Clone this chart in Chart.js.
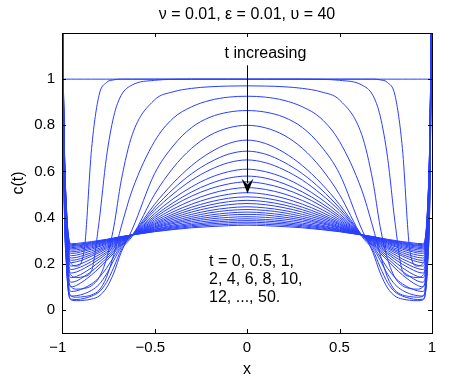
<!DOCTYPE html>
<html lang="en">
<head>
<meta charset="UTF-8">
<title>c(t) profiles</title>
<style>
    html, body { margin: 0; padding: 0; background: #fff; }
    #wrap { width: 476px; height: 382px; }
</style>
<script src="https://cdn.jsdelivr.net/npm/chart.js"></script>
</head>
<body>
<div id="wrap"><canvas id="chart" width="476" height="382"></canvas></div>
<script>
// x positions of the left half (profiles are symmetric about x = 0)
const xHalf = [-1, -0.99, -0.975, -0.95, -0.92, -0.88, -0.84, -0.8, -0.76, -0.72, -0.68, -0.62, -0.5, -0.4, -0.3, -0.2, -0.1, 0];

const times = ['0', '0.5', '1', '2', '4', '6', '8', '10', '12', '14', '16', '18', '20', '22',
               '24', '26', '28', '30', '32', '34', '36', '38', '40', '42', '44', '46', '48', '50'];

const c_t0  = [1, 1, 1, 1, 1, 1, 1, 1, 1, 1, 1, 1, 1, 1, 1, 1, 1, 1];
const c_t05 = [1.6, 0.74, 0.33, 0.2, 0.19, 0.26, 0.7, 0.93, 0.985, 0.997, 1, 1, 1, 1, 1, 1, 1, 1];
const c_t1  = [1.6, 0.69, 0.28, 0.15, 0.14, 0.145, 0.17, 0.38, 0.66, 0.84, 0.93, 0.975, 0.995, 0.999, 1, 1, 1, 1];
const c_t2  = [1.6, 0.64, 0.23, 0.1, 0.09, 0.093, 0.105, 0.14, 0.22, 0.36, 0.56, 0.76, 0.91, 0.945, 0.96, 0.967, 0.97, 0.971];
const c_t4  = [1.6, 0.6, 0.2, 0.06, 0.055, 0.058, 0.065, 0.085, 0.14, 0.24, 0.36, 0.52, 0.73, 0.83, 0.88, 0.908, 0.922, 0.926];
const c_t6  = [1.6, 0.58, 0.18, 0.043, 0.04, 0.042, 0.047, 0.06, 0.095, 0.16, 0.25, 0.35, 0.59, 0.71, 0.79, 0.835, 0.857, 0.864];
const c_t8  = [1.6, 0.58, 0.18, 0.047, 0.045, 0.05, 0.06, 0.078, 0.118, 0.185, 0.26, 0.32, 0.5, 0.615, 0.7, 0.757, 0.789, 0.8];
const c_t10 = [1.6, 0.61, 0.2, 0.06, 0.062, 0.07, 0.085, 0.11, 0.155, 0.215, 0.27, 0.325, 0.457, 0.549, 0.625, 0.682, 0.721, 0.736];
const c_t12 = [1.6, 0.63, 0.22, 0.08, 0.083, 0.095, 0.113, 0.14, 0.18, 0.23, 0.277, 0.325, 0.442, 0.523, 0.59, 0.64, 0.675, 0.688];
const c_t14 = [1.6, 0.65, 0.24, 0.1, 0.107, 0.127, 0.152, 0.181, 0.213, 0.246, 0.282, 0.325, 0.43, 0.502, 0.562, 0.607, 0.638, 0.65];
const c_t16 = [1.6, 0.67, 0.26, 0.12, 0.126, 0.145, 0.167, 0.194, 0.223, 0.253, 0.286, 0.325, 0.417, 0.481, 0.533, 0.573, 0.599, 0.61];
const c_t18 = [1.6, 0.69, 0.28, 0.14, 0.146, 0.162, 0.183, 0.207, 0.233, 0.26, 0.29, 0.325, 0.407, 0.464, 0.511, 0.547, 0.571, 0.58];
const c_t20 = [1.6, 0.71, 0.3, 0.16, 0.165, 0.18, 0.198, 0.219, 0.243, 0.267, 0.294, 0.325, 0.399, 0.451, 0.493, 0.525, 0.546, 0.555];
const c_t22 = [1.6, 0.72, 0.31, 0.175, 0.18, 0.193, 0.21, 0.229, 0.25, 0.273, 0.297, 0.325, 0.391, 0.437, 0.474, 0.503, 0.522, 0.53];
const c_t24 = [1.6, 0.74, 0.33, 0.19, 0.194, 0.206, 0.221, 0.239, 0.258, 0.278, 0.299, 0.325, 0.384, 0.425, 0.458, 0.484, 0.501, 0.508];
const c_t26 = [1.6, 0.75, 0.34, 0.205, 0.209, 0.219, 0.233, 0.248, 0.265, 0.283, 0.302, 0.325, 0.378, 0.415, 0.445, 0.468, 0.484, 0.49];
const c_t28 = [1.6, 0.76, 0.35, 0.215, 0.218, 0.228, 0.24, 0.255, 0.27, 0.287, 0.304, 0.325, 0.373, 0.407, 0.434, 0.455, 0.469, 0.475];
const c_t30 = [1.6, 0.77, 0.36, 0.225, 0.228, 0.237, 0.248, 0.261, 0.275, 0.29, 0.306, 0.325, 0.369, 0.399, 0.424, 0.443, 0.456, 0.461];
const c_t32 = [1.6, 0.78, 0.37, 0.235, 0.238, 0.246, 0.256, 0.267, 0.28, 0.294, 0.308, 0.325, 0.364, 0.392, 0.414, 0.431, 0.442, 0.447];
const c_t34 = [1.6, 0.79, 0.38, 0.245, 0.247, 0.255, 0.263, 0.274, 0.285, 0.297, 0.31, 0.325, 0.36, 0.385, 0.405, 0.421, 0.431, 0.435];
const c_t36 = [1.6, 0.8, 0.39, 0.252, 0.254, 0.261, 0.269, 0.278, 0.289, 0.299, 0.311, 0.325, 0.357, 0.379, 0.397, 0.411, 0.42, 0.424];
const c_t38 = [1.6, 0.8, 0.4, 0.259, 0.261, 0.267, 0.274, 0.283, 0.292, 0.302, 0.312, 0.325, 0.354, 0.374, 0.39, 0.402, 0.411, 0.414];
const c_t40 = [1.6, 0.81, 0.4, 0.265, 0.267, 0.272, 0.279, 0.287, 0.295, 0.304, 0.314, 0.325, 0.35, 0.368, 0.383, 0.394, 0.401, 0.404];
const c_t42 = [1.6, 0.82, 0.41, 0.27, 0.272, 0.277, 0.283, 0.29, 0.298, 0.306, 0.315, 0.325, 0.348, 0.363, 0.376, 0.386, 0.392, 0.395];
const c_t44 = [1.6, 0.82, 0.41, 0.275, 0.277, 0.281, 0.287, 0.293, 0.3, 0.308, 0.316, 0.325, 0.345, 0.359, 0.37, 0.379, 0.385, 0.387];
const c_t46 = [1.6, 0.83, 0.42, 0.279, 0.28, 0.285, 0.29, 0.296, 0.302, 0.309, 0.316, 0.325, 0.343, 0.355, 0.365, 0.373, 0.378, 0.38];
const c_t48 = [1.6, 0.83, 0.42, 0.283, 0.284, 0.288, 0.293, 0.298, 0.304, 0.31, 0.317, 0.325, 0.34, 0.351, 0.36, 0.367, 0.371, 0.373];
const c_t50 = [1.6, 0.84, 0.43, 0.287, 0.288, 0.292, 0.296, 0.301, 0.306, 0.312, 0.318, 0.325, 0.339, 0.348, 0.356, 0.361, 0.365, 0.367];

const profiles = [c_t0, c_t05, c_t1, c_t2, c_t4, c_t6, c_t8, c_t10, c_t12, c_t14, c_t16, c_t18, c_t20, c_t22,
                  c_t24, c_t26, c_t28, c_t30, c_t32, c_t34, c_t36, c_t38, c_t40, c_t42, c_t44, c_t46, c_t48, c_t50];

const xTicks = [-1, -0.5, 0, 0.5, 1];
const yTicks = [0, 0.2, 0.4, 0.6, 0.8, 1];

const titleText = 'ν = 0.01, ε = 0.01, υ = 40';
const noteLines = ['t = 0, 0.5, 1,', '2, 4, 6, 8, 10,', '12, ..., 50.'];

const FONT = '"Liberation Sans", Arial, Helvetica, sans-serif';
const BLUE = 'rgb(40, 62, 255)';

// mirror the half profile to get the full curve on [-1, 1]
function fullProfile(half) {
    const pts = xHalf.map((x, i) => ({ x: x, y: half[i] }));
    for (let i = xHalf.length - 2; i >= 0; i--) {
        pts.push({ x: -xHalf[i], y: half[i] });
    }
    return pts;
}

const datasets = profiles.map((p, i) => ({
    label: 't = ' + times[i],
    data: fullProfile(p),
    borderColor: BLUE,
    borderWidth: 1,
    pointRadius: 0,
    fill: false,
    cubicInterpolationMode: 'monotone'
}));

// axes box with inward ticks, title and annotations
const decorations = {
    id: 'decorations',
    afterDraw(chart) {
        const { ctx, chartArea: a, scales: { x, y } } = chart;
        ctx.save();
        ctx.strokeStyle = '#000';
        ctx.lineWidth = 1;
        ctx.strokeRect(Math.round(a.left) + 0.5, Math.round(a.top) + 0.5,
                       Math.round(a.right - a.left), Math.round(a.bottom - a.top));

        ctx.beginPath();
        xTicks.forEach(v => {
            const px = Math.round(x.getPixelForValue(v)) + 0.5;
            ctx.moveTo(px, a.top); ctx.lineTo(px, a.top + 4);
            ctx.moveTo(px, a.bottom); ctx.lineTo(px, a.bottom - 4);
        });
        yTicks.forEach(v => {
            const py = Math.round(y.getPixelForValue(v)) + 0.5;
            ctx.moveTo(a.left, py); ctx.lineTo(a.left + 4, py);
            ctx.moveTo(a.right, py); ctx.lineTo(a.right - 4, py);
        });
        ctx.stroke();

        ctx.fillStyle = '#000';
        ctx.font = '16px ' + FONT;
        ctx.textBaseline = 'middle';
        ctx.textAlign = 'center';
        ctx.fillText(titleText, (a.left + a.right) / 2, 15);

        // "t increasing" arrow
        const ax = Math.round(x.getPixelForValue(0)) + 0.5;
        const top = y.getPixelForValue(1.06);
        const tip = y.getPixelForValue(0.505);
        ctx.beginPath();
        ctx.moveTo(ax, top);
        ctx.lineTo(ax, tip - 10);
        ctx.stroke();
        ctx.beginPath();
        ctx.moveTo(ax, tip);
        ctx.lineTo(ax + 6, tip - 15);
        ctx.lineTo(ax, tip - 9);
        ctx.lineTo(ax - 6, tip - 15);
        ctx.closePath();
        ctx.fill();

        ctx.fillText('t increasing', x.getPixelForValue(0.1), y.getPixelForValue(1.112));

        ctx.textAlign = 'left';
        noteLines.forEach((line, i) => {
            ctx.fillText(line, x.getPixelForValue(-0.205), y.getPixelForValue(0.208 - i * 0.078));
        });
        ctx.restore();
    }
};

new Chart(document.getElementById('chart'), {
    type: 'line',
    data: { datasets: datasets },
    options: {
        responsive: false,
        animation: false,
        devicePixelRatio: 1,
        layout: { padding: { left: 0, right: 44, top: 33, bottom: 0 } },
        plugins: { legend: { display: false }, tooltip: { enabled: false }, title: { display: false } },
        scales: {
            x: {
                type: 'linear',
                min: -1,
                max: 1,
                grid: { display: false, drawTicks: false },
                border: { display: false },
                afterFit: s => { s.height = 49; },
                afterBuildTicks: s => { s.ticks = xTicks.map(v => ({ value: v })); },
                ticks: {
                    padding: 6,
                    color: '#000',
                    font: { family: FONT, size: 15 },
                    maxRotation: 0,
                    callback: v => v < 0 ? '\u2212' + Math.abs(v) + '  ' : String(v)
                },
                title: { display: true, text: 'x', color: '#000', font: { family: FONT, size: 16 }, padding: { top: 0, bottom: 3 } }
            },
            y: {
                min: -0.1,
                max: 1.2,
                grid: { display: false, drawTicks: false },
                border: { display: false },
                afterFit: s => { s.width = 62; },
                afterBuildTicks: s => { s.ticks = yTicks.map(v => ({ value: v })); },
                ticks: {
                    padding: 7,
                    color: '#000',
                    font: { family: FONT, size: 15 },
                    callback: v => String(v)
                },
                title: { display: true, text: 'c(t)', color: '#000', font: { family: FONT, size: 16 }, padding: { top: 9, bottom: 0 } }
            }
        }
    },
    plugins: [decorations]
});
</script>
</body>
</html>
